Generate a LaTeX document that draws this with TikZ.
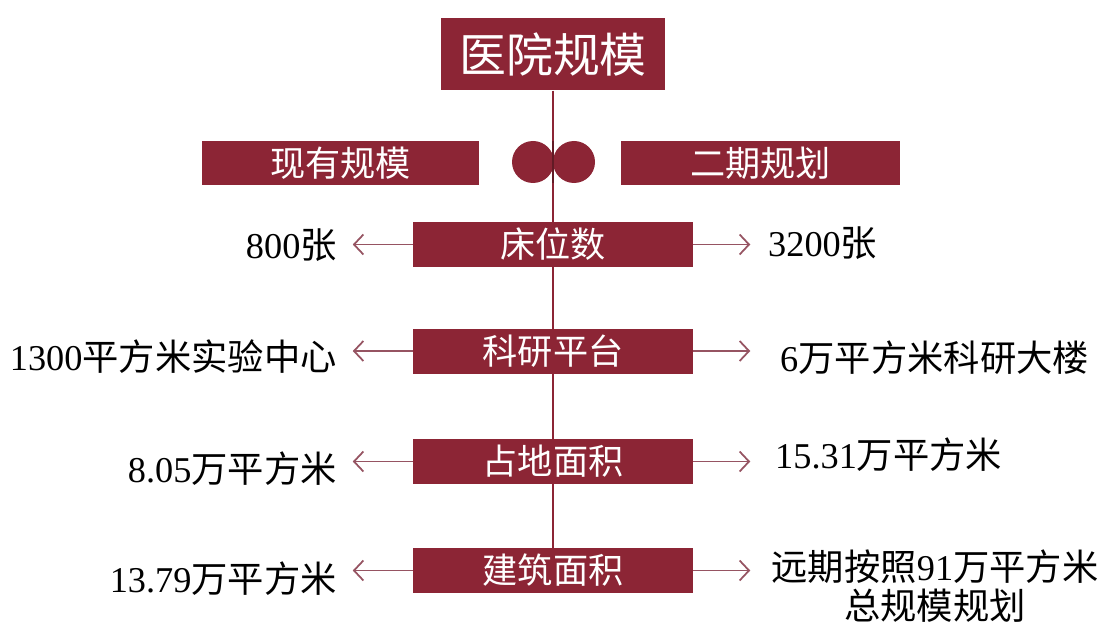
\documentclass[tikz,border=0pt]{standalone}
\usepackage{fontspec}
\setmainfont{Liberation Serif}
\newfontfamily\cjk{Noto Sans CJK SC}
\usetikzlibrary{arrows.meta}
\usetikzlibrary{backgrounds}
\definecolor{hospred}{HTML}{8C2535}
\definecolor{arrowred}{HTML}{965462}
\newcommand{\zh}[1]{{\cjk #1}}

\begin{document}
\begin{tikzpicture}[x=0.03cm, y=-0.03cm,
    redbox/.style={fill=hospred, text=white, inner sep=0pt, minimum width=8.4cm, minimum height=1.35cm, font=\cjk\fontsize{30}{36}\selectfont},
    valtext/.style={inner sep=0pt, font=\fontsize{31}{34}\selectfont},
    dot/.style={circle, fill=hospred, minimum size=1.26cm, inner sep=0pt},
    arr/.style={draw=arrowred, line width=1.5pt, -{Straight Barb[length=8pt,width=17pt]}}]
      \useasboundingbox (0,0) rectangle (1105,624);

      % Title and the two column heads
      \node[redbox, minimum width=6.7cm, minimum height=2.16cm, font=\cjk\fontsize{40}{48}\selectfont] (title) at (553,54.5) {医院规模};
      \node[redbox, minimum width=8.3cm, minimum height=1.32cm] (now) at (340.5,163) {现有规模};
      \node[redbox, minimum width=8.37cm, minimum height=1.32cm] (plan) at (760.5,163) {二期规划};

      % Rows
      \node[redbox] (b1) at (553,244.5) {床位数};
      \node[redbox] (b2) at (553,351) {科研平台};
      \node[redbox] (b3) at (553,461.5) {占地面积};
      \node[redbox] (b4) at (553,570.5) {建筑面积};

      % The two dots
      \node[dot] (dotl) at (533,162) {};
      \node[dot] (dotr) at (574,162) {};

      % Central line, behind the boxes
      \begin{scope}[on background layer]
        \draw[hospred, line width=1.5pt] (title.south) -- (b4.north);
      \end{scope}
      \draw[hospred!70!black, line width=1pt] (dotl.north -| title.south) -- (dotl.south -| title.south);

      % Values, now
      \node[valtext, anchor=east] (l1) at (337,245) {800\zh{张}};
      \node[valtext, anchor=east] (l2) at (337,357) {1300\zh{平方米实验中心}};
      \node[valtext, anchor=east] (l3) at (337,469) {8.05\zh{万平方米}};
      \node[valtext, anchor=east] (l4) at (337,579) {13.79\zh{万平方米}};

      % Values, planned
      \node[valtext, anchor=west] (r1) at (768,243) {3200\zh{张}};
      \node[valtext, anchor=west] (r2) at (780,358) {6\zh{万平方米科研大楼}};
      \node[valtext, anchor=west] (r3) at (775,455) {15.31\zh{万平方米}};
      \node[valtext, align=center] (r4) at (935,586) {\zh{远期按照}91\zh{万平方米}\\\zh{总规模规划}};

      % Arrows
      \foreach \i in {1,...,4} {
        \draw[arr] (b\i.west) -- ++(-60,0);
        \draw[arr] (b\i.east) -- ++(57,0);
      }
\end{tikzpicture}
\end{document}
